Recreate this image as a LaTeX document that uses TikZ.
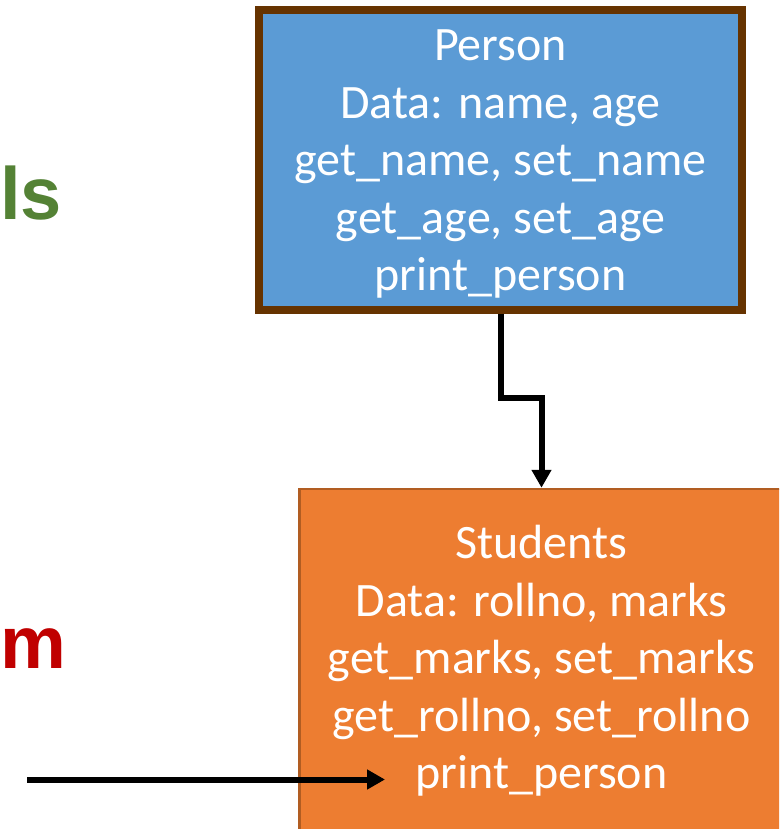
\documentclass[tikz,border=0pt]{standalone}
\usepackage{fontspec}
\setmainfont{Carlito}
\newfontfamily\arialfont{Liberation Sans}
\usetikzlibrary{arrows.meta}
\definecolor{pblue}{HTML}{5B9BD5}
\definecolor{pbrown}{HTML}{663300}
\definecolor{sorange}{HTML}{ED7D31}
\definecolor{sorangedark}{HTML}{B15D22}
\definecolor{lgreen}{HTML}{548235}
\definecolor{lred}{HTML}{C00000}
\begin{document}
\begin{tikzpicture}[x=1pt,y=-1pt,
  boxtext/.style={text=white,align=center,font=\fontsize{48}{57.5}\selectfont,inner sep=0pt},
  personbox/.style={boxtext,draw=pbrown,fill=pblue,line width=8pt,minimum width=483pt,minimum height=299pt},
  studentbox/.style={boxtext,draw=sorangedark,fill=sorange,line width=2.5pt,minimum width=484pt,minimum height=344pt},
  conn/.style={line width=6pt,-{Triangle[length=18pt,width=19pt]}},
  sidetext/.style={font=\arialfont\bfseries\fontsize{74}{90}\selectfont,inner sep=0pt}]
\clip (0,0) rectangle (779,829);
\fill[white] (0,0) rectangle (779,829);
\node[personbox] (P) at (500.5,160) {};
\node[boxtext] (Ptext) at (500.5,164) {Person\\Data: name, age\\get\_name, set\_name\\get\_age, set\_age\\print\_person};
\node[studentbox] (S) at (541.5,661) {Students\\Data: rollno, marks\\get\_marks, set\_marks\\get\_rollno, set\_rollno\\print\_person};
\draw[conn] (P.south) -- ++(0,84) -| (S.north);
\node[sidetext,text=lgreen,anchor=base west] (ls) at (0,219) {ls};
\node[sidetext,text=lred,anchor=base west] (m) at (0,668) {m};
\coordinate (a) at (27,779.5);
\coordinate (b) at (385,779.5);
\draw[conn] (a) -- (b);
\end{tikzpicture}
\end{document}
